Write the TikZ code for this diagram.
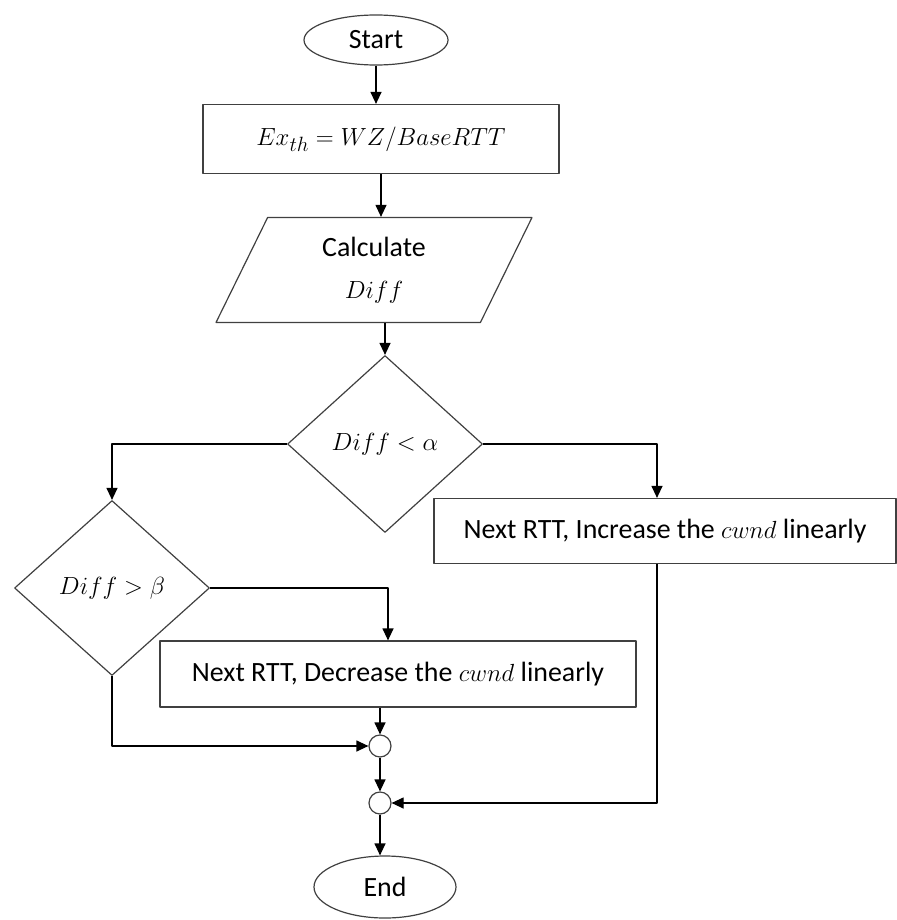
\documentclass[tikz,border=0pt]{standalone}
\usepackage{amsmath}
\usepackage{fontspec}
\setmainfont{Carlito}
\usetikzlibrary{arrows.meta}
\usetikzlibrary{shapes}
\definecolor{boxgray}{HTML}{404040}
\tikzset{
  flowbox/.style={draw=boxgray,rectangle,inner sep=0pt},
  flowoval/.style={draw=boxgray,ellipse,inner sep=0pt},
  flowtest/.style={draw=boxgray,diamond,inner sep=0pt},
  flowjoin/.style={draw=boxgray,circle,minimum size=22bp,inner sep=0pt},
}
\begin{document}
\begin{tikzpicture}[>={Triangle[length=12bp,width=11bp]},line join=bevel,line width=1.2bp,font=\fontsize{28}{34}\selectfont]
\useasboundingbox (0bp,0bp) rectangle (897bp,-920bp);
%%
\node (node_start) at (376bp,-40bp) [flowoval,minimum width=144bp,minimum height=50bp] {Start};
  \node (node_exth) at (381bp,-139bp) [flowbox,minimum width=356bp,minimum height=69bp] {$Ex_{th}=WZ/BaseRTT$};
  \node (node_calc) at (374bp,-270bp) [draw=boxgray,trapezium,trapezium stretches body,trapezium left angle=52,trapezium right angle=128,minimum width=316bp,minimum height=105bp,inner sep=0pt,align=center] {Calculate\\[8bp]$Diff$};
  \node (node_alpha) at (385bp,-444bp) [flowtest,minimum width=195bp,minimum height=177bp] {$Diff<\alpha$};
  \node (node_beta) at (112bp,-588bp) [flowtest,minimum width=195bp,minimum height=175bp] {$Diff>\beta$};
  \node (node_inc) at (665bp,-531bp) [flowbox,minimum width=462bp,minimum height=65bp] {Next RTT, Increase the $cwnd$ linearly};
  \node (node_dec) at (398bp,-674bp) [flowbox,minimum width=476bp,minimum height=66bp] {Next RTT, Decrease the $cwnd$ linearly};
  \node (node_join1) at (380bp,-746bp) [flowjoin] {};
  \node (node_join2) at (380bp,-803bp) [flowjoin] {};
  \node (node_end) at (385bp,-887bp) [flowoval,minimum width=142bp,minimum height=62bp] {End};
  \draw [black,->] (node_start) -- (node_start |- node_exth.north);
  \draw [black,->] (node_exth) -- (node_exth |- node_calc.north);
  \draw [black,->] (node_alpha.north |- node_calc.south) -- (node_alpha.north);
  \draw [black,->] (node_alpha.west) -| (node_beta.north);
  \draw [black,->] (node_alpha.east) -| ([xshift=-8bp]node_inc.north);
  \draw [black,->] (node_beta.east) -| ([xshift=-10bp]node_dec.north);
  \draw [black,->] (node_beta.south) |- (node_join1.west);
  \draw [black,->] (node_dec.south -| node_join1) -- (node_join1.north);
  \draw [black,->] (node_join1) -- (node_join2);
  \draw [black,->] ([xshift=-8bp]node_inc.south) |- (node_join2.east);
  \draw [black,->] (node_join2) -- (node_join2 |- node_end.north);
%
\end{tikzpicture}
\end{document}
